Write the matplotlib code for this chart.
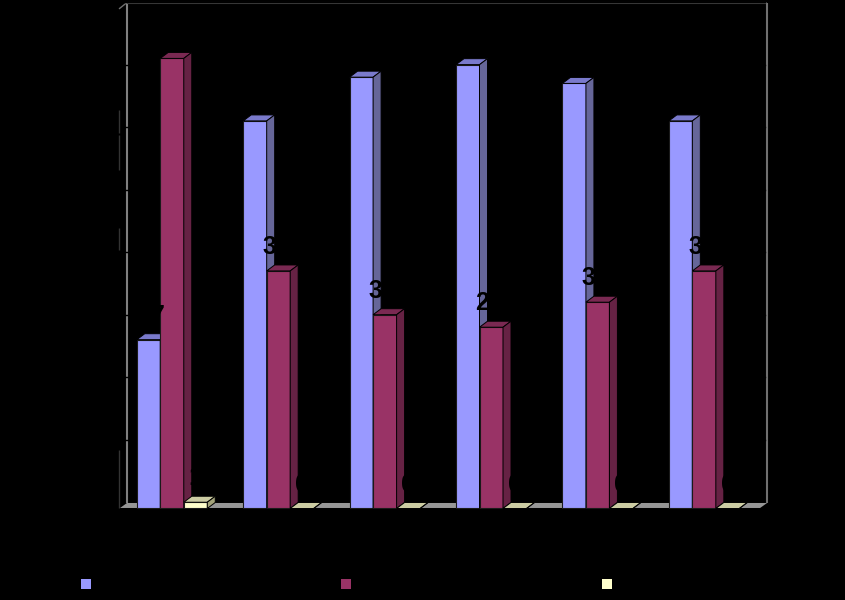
import matplotlib
matplotlib.use("Agg")
import matplotlib.pyplot as plt
from matplotlib.patches import Polygon

plt.rcParams['font.family'] = ['Liberation Sans', 'DejaVu Sans']

categories = ["1", "2", "3", "4", "5", "6"]
series_names = ["Series 1", "Series 2", "Series 3"]
series_a = [27, 62, 69, 71, 68, 62]
series_b = [72, 38, 31, 29, 33, 38]
series_c = [1, 0, 0, 0, 0, 0]
y_ticks = [0, 10, 20, 30, 40, 50, 60, 70, 80]

W, H = 845, 600
X_UNIT, Y_UNIT = 106.4, 6.25      # pixels per category / per value
X0, Y0 = 172.0, 508.5             # pixel of category 0 / of value 0
DX, DY = 8, 6                     # depth of the 3D boxes, pixels
BAR = 23.5 / X_UNIT
dx, dy = DX / X_UNIT, DY / Y_UNIT

fig = plt.figure(figsize=(8.451, 6.001), dpi=100, facecolor="black")
ax = fig.add_axes([0, 0, 1, 1], facecolor="black")
ax.set_xlim(-X0 / X_UNIT, (W - X0) / X_UNIT)
ax.set_ylim(-(H - Y0) / Y_UNIT, Y0 / Y_UNIT)
ax.axis("off")


def frac(points):
    return [(x / W, 1 - y / H) for x, y in points]


# walls and floor
ax.add_patch(Polygon(frac([(120, 508), (127, 503), (767, 503), (760, 508)]),
                     transform=ax.transAxes, fc="#969696", ec="none", zorder=1))
for pts, col, lw in [
    ([(126.5, 3), (126.5, 503)], "#808080", 1.5),
    ([(126.5, 3), (767, 3)], "#444444", 1.5),
    ([(767, 3), (767, 503)], "#707070", 1.5),
    ([(126.5, 3), (119, 9)], "#707070", 1),
    ([(118.5, 110), (118.5, 133)], "#333333", 1),
    ([(118.5, 135), (118.5, 170)], "#333333", 1),
    ([(118.5, 228), (118.5, 250)], "#333333", 1),
    ([(118.5, 450), (118.5, 508)], "#333333", 1),
]:
    (x1, y1), (x2, y2) = frac(pts)
    ax.plot([x1, x2], [y1, y2], transform=ax.transAxes, color=col, lw=lw,
            solid_capstyle="butt", zorder=1.5)

# gridlines (black on black, they only notch the left wall edge)
for t in y_ticks[1:]:
    ax.plot([(124 - X0) / X_UNIT, (765 - X0) / X_UNIT], [t + dy, t + dy],
            color="black", lw=1, zorder=1.7)
    ax.text((114 - X0) / X_UNIT, t, str(t), color="black", ha="right", va="center",
            fontsize=14, zorder=6)

series = [
    (series_a, -1, "#9999FF", "#7A7ACC", "#666699", 3 / X_UNIT),
    (series_b, 0, "#993366", "#7A2952", "#662244", -2 / X_UNIT),
    (series_c, 1, "#FFFFCC", "#CCCCA3", "#A3A37A", 0),
]

for values, off, front, top, side, lab_dx in series:
    xs = [i + off * BAR for i in range(len(values))]
    ax.bar(xs, values, width=BAR, color=front, edgecolor="#1a1a1a", linewidth=0.8, zorder=3)
    for x, v in zip(xs, values):
        l, r = x - BAR / 2, x + BAR / 2
        ax.add_patch(Polygon([(l, v), (r, v), (r + dx, v + dy), (l + dx, v + dy)],
                             fc=top, ec="black", lw=0.7, zorder=3))
        ax.add_patch(Polygon([(r, 0), (r + dx, dy), (r + dx, v + dy), (r, v)],
                             fc=side, ec="black", lw=0.7, zorder=3))
        ax.annotate(str(v), xy=(x + lab_dx, v), xytext=(0, 24),
                    textcoords="offset pixels", ha="center", va="center",
                    fontsize=18, fontweight="bold", color="black", zorder=6)

# category labels
for i, c in enumerate(categories):
    ax.text(i, -40 / Y_UNIT, c, color="black", ha="center", va="center", fontsize=14, zorder=6)

# legend
for (x, name, s) in zip((86, 346, 607), series_names, series):
    fx, fy = frac([(x, 584.5)])[0]
    ax.scatter([fx], [fy], transform=ax.transAxes, marker="s", s=42, color=s[2],
               linewidths=0, zorder=6)
    ax.text(fx + 10 / W, fy, name, transform=ax.transAxes, color="black",
            va="center", fontsize=14, zorder=6)

fig.savefig("out.png", dpi=100, facecolor="black")
